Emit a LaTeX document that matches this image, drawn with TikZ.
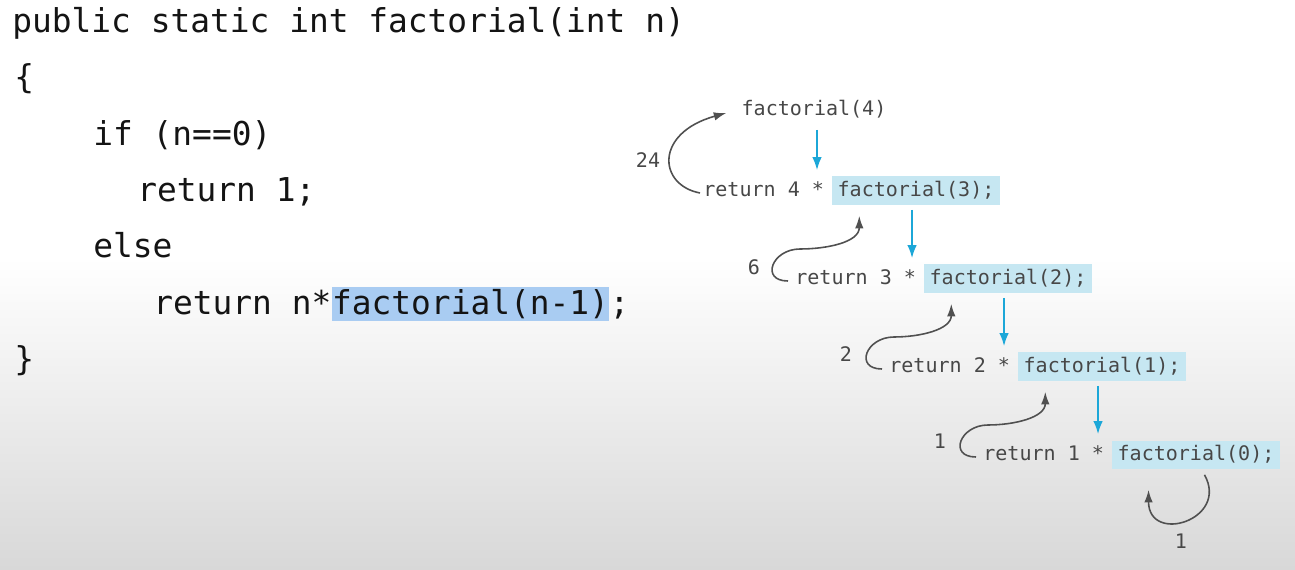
\documentclass[tikz,border=0pt]{standalone}
\usepackage{fontspec}
\usetikzlibrary{arrows.meta, positioning}
\newfontfamily\codefont{DejaVu Sans Mono}
\definecolor{codeink}{HTML}{141414}
\definecolor{traceink}{HTML}{474747}
\definecolor{selblue}{HTML}{A9CCF2}
\definecolor{callfill}{HTML}{C6E7F2}
\definecolor{callblue}{HTML}{1CA7D8}
\definecolor{retgray}{HTML}{505050}
\definecolor{bggray}{HTML}{D8D8D8}

\begin{document}
\begin{tikzpicture}[x=0.02cm, y=0.02cm,
      codeline/.style={anchor=base west, inner sep=0pt, text=codeink, font=\codefont\fontsize{18.7}{22}\selectfont},
      sel/.style={codeline, fill=selblue, text height=0.56cm, text depth=0.12cm},
      retline/.style={anchor=west, inner xsep=0pt, inner ysep=0pt, text=traceink, text height=0.3cm, text depth=0.08cm, font=\codefont\fontsize{11.4}{13}\selectfont},
      callnode/.style={retline, fill=callfill, inner xsep=0.12cm, minimum height=0.58cm},
      val/.style={retline, anchor=center},
      call/.style={-{Latex[length=0.26cm, width=0.19cm]}, line width=1pt, callblue},
      ret/.style={-{Latex[length=0.25cm, width=0.17cm]}, line width=0.9pt, retgray},
    ]
    \useasboundingbox (0,0) rectangle (1295,-570);
    \fill[white] (0,0) rectangle (1295,-258);
    \shade[top color=white, bottom color=bggray] (0,-258) rectangle (1295,-570);

    \node[codeline] (sig) at (12,-33) {public static int factorial(int n)};
    \node[codeline] (open) at (14,-89) {\{};
    \node[codeline] (test) at (93,-146) {if (n==0)};
    \node[codeline] (base) at (137,-202) {return 1;};
    \node[codeline] (alt) at (93,-258) {else};
    \node[codeline] (recA) at (153,-315) {return n*};
    \node[sel] (recB) at (recA.base east) {factorial(n-1)};
    \node[codeline] (recC) at (recB.base east) {;};
    \node[codeline] (close) at (14,-371) {\}};

    \node[val] (f4) at (814,-110) {factorial(4)};
    \node[retline] (r4) at (703,-191) {return 4 *};
    \node[callnode, right=0.14cm of r4] (f3) {factorial(3);};
    \node[retline] (r3) at (795,-279) {return 3 *};
    \node[callnode, right=0.14cm of r3] (f2) {factorial(2);};
    \node[retline] (r2) at (889,-367) {return 2 *};
    \node[callnode, right=0.14cm of r2] (f1) {factorial(1);};
    \node[retline] (r1) at (983,-455) {return 1 *};
    \node[callnode, right=0.14cm of r1] (f0) {factorial(0);};

    \node[val] (v24) at (648,-162) {24};
    \node[val] (v6) at (754,-269) {6};
    \node[val] (v2) at (846,-356) {2};
    \node[val] (v1) at (940,-443) {1};
    \node[val] (v0) at (1181,-543) {1};

    \draw[call] ([xshift=0.06cm, yshift=-0.2cm]f4.south) -- ([xshift=0.06cm, yshift=0.12cm]f4.south |- f3.north);
    \draw[call] ([xshift=-0.08cm, yshift=-0.08cm]f3.south) -- ([xshift=-0.08cm, yshift=0.12cm]f3.south |- f2.north);
    \draw[call] ([xshift=-0.08cm, yshift=-0.08cm]f2.south) -- ([xshift=-0.08cm, yshift=0.12cm]f2.south |- f1.north);
    \draw[call] ([xshift=-0.08cm, yshift=-0.08cm]f1.south) -- ([xshift=-0.08cm, yshift=0.12cm]f1.south |- f0.north);

    \draw[ret] ([xshift=-0.06cm, yshift=-0.04cm]r4.west) .. controls +(-42,8) and +(-72,-20) .. ([xshift=-0.3cm, yshift=-0.06cm]f4.west);
    \draw[ret] ([xshift=-0.14cm, yshift=-0.04cm]r3.west) to[out=180, in=180, looseness=2.1] ++(12,32) to[out=0, in=-90] ([shift={(0.56cm,-0.2cm)}]f3.south west);
    \draw[ret] ([xshift=-0.14cm, yshift=-0.04cm]r2.west) to[out=180, in=180, looseness=2.1] ++(12,32) to[out=0, in=-90] ([shift={(0.56cm,-0.2cm)}]f2.south west);
    \draw[ret] ([xshift=-0.14cm, yshift=-0.04cm]r1.west) to[out=180, in=180, looseness=2.1] ++(12,32) to[out=0, in=-90] ([shift={(0.56cm,-0.2cm)}]f1.south west);
    \draw[ret] ([shift={(0.17cm,-0.1cm)}]f0.south) .. controls +(25,-45) and +(0,-55) .. ([shift={(-0.95cm,-0.4cm)}]f0.south);
  \end{tikzpicture}
\end{document}
